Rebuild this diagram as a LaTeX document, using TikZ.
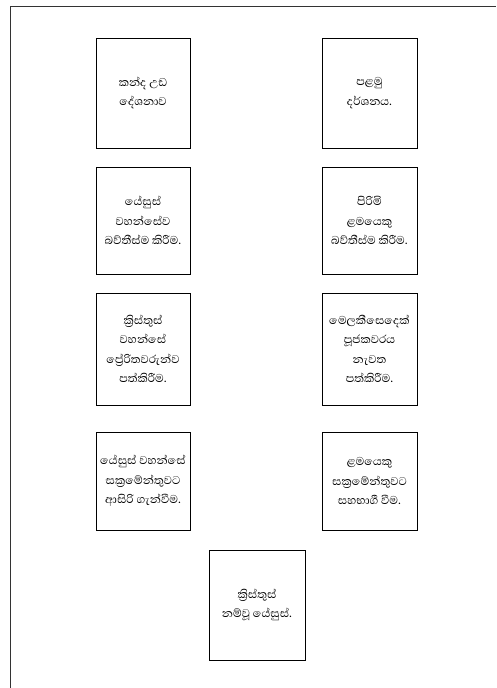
\documentclass[tikz,border=0pt]{standalone}
\usepackage{fontspec}
\newfontfamily\sinhalafont[Script=Sinhala]{Abhaya Libre}
\usepackage{tikz}
\usetikzlibrary{positioning}

\tikzset{
  card/.style={draw=black, line width=0.8pt, font=\sinhalafont\fontsize{14.5}{19.5}\selectfont,
    align=center, inner sep=0pt}
}

\begin{document}
\begin{tikzpicture}[x=1pt, y=1pt]
\useasboundingbox (0,0) rectangle (496,-688);

% Outer frame (only top and left edges show)
\coordinate (fTL) at (10,-6);
\draw[black!80, line width=0.8pt] (10,-688) -- (fTL) -- (496,-6);

% Row 1
\node[card, minimum width=94, minimum height=110] (sermon) at (143,-93) {කන්ද උඩ\\දේශනාව};
\node[card, minimum width=95, minimum height=110] (vision) at (369.5,-93) {පළමු\\දර්ශනය.};

% Row 2
\node[card, minimum width=94, minimum height=107] (jbapt) at (143,-220.5) {යේසුස්\\වහන්සේව\\බව්තීස්ම කිරීම.};
\node[card, minimum width=95, minimum height=107] (bbapt) at (369.5,-220.5) {පිරිමි\\ළමයෙකු\\බව්තීස්ම කිරීම.};

% Row 3
\node[card, minimum width=94, minimum height=112] (apost) at (143,-349) {ක්‍රිස්තුස්\\වහන්සේ\\ප්‍රේරිතවරුන්ව\\පත්කිරීම.};
\node[card, minimum width=95, minimum height=112] (melch) at (369.5,-349) {මෙලකීසෙදෙක්\\පූජකවරය\\නැවත\\පත්කිරීම.};

% Row 4
\node[card, minimum width=94, minimum height=98] (jsacr) at (143,-481) {යේසුස් වහන්සේ\\සක්‍රමේන්තුවට\\ආසිරි ගැන්වීම.};
\node[card, minimum width=95, minimum height=98] (bsacr) at (369.5,-481) {ළමයෙකු\\සක්‍රමේන්තුවට\\සහභාගී වීම.};

% Bottom
\node[card, minimum width=96, minimum height=110] (christ) at (257,-605) {ක්‍රිස්තුස්\\නම්වූ යේසුස්.};

\end{tikzpicture}
\end{document}
